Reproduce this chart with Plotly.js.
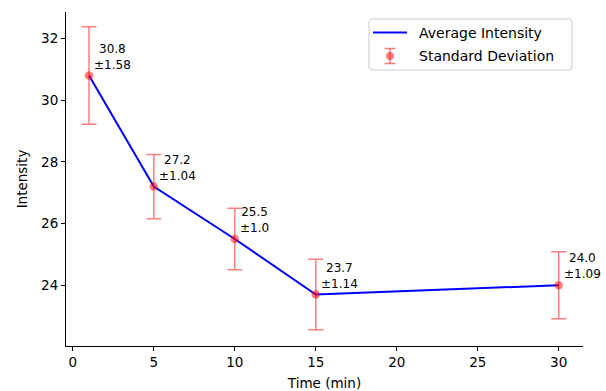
<!DOCTYPE html>
<html>
<head>
<meta charset="utf-8">
<script src="https://cdn.plot.ly/plotly-3.0.1.min.js"></script>
<style>
  html, body { margin: 0; padding: 0; background: #fff; }
  #chart { width: 606px; height: 391px; }
</style>
</head>
<body>
<div id="chart"></div>
<script>
// Measurement times and the mean intensity with its standard deviation
const timeMin = [1, 5, 10, 15, 30];
const avgIntensity = [30.8, 27.2, 25.5, 23.7, 24.0];
const stdIntensity = [1.58, 1.04, 1.0, 1.14, 1.09];
const stdLabels = ['1.58', '1.04', '1.0', '1.14', '1.09'];
const xTicks = [0, 5, 10, 15, 20, 25, 30];
const yTicks = [24, 26, 28, 30, 32];
const seriesNames = ['Average Intensity', 'Standard Deviation'];

const font = 'DejaVu Sans, sans-serif';
const errColor = 'rgba(255,0,0,0.5)';
const lineColor = '#0000ff';

const W = 606, H = 391;
const M = { l: 66, r: 23, t: 12, b: 45 };
const PW = W - M.l - M.r, PH = H - M.t - M.b;
// pixel position -> paper fraction (for the hand-drawn legend)
const px = v => (v - M.l) / PW;
const py = v => 1 - (v - M.t) / PH;

const lineTrace = {
  x: timeMin,
  y: avgIntensity,
  mode: 'lines',
  name: seriesNames[0],
  line: { color: lineColor, width: 2 },
  hoverinfo: 'skip'
};

const errTrace = {
  x: timeMin,
  y: avgIntensity,
  mode: 'markers',
  name: seriesNames[1],
  marker: { color: errColor, size: 8.5 },
  error_y: {
    type: 'data',
    array: stdIntensity,
    visible: true,
    color: errColor,
    thickness: 1.5,
    width: 7.5
  }
};

// Value labels beside each point
const annotations = timeMin.map((t, i) => ({
  x: t,
  y: avgIntensity[i],
  xref: 'x',
  yref: 'y',
  text: avgIntensity[i].toFixed(1) + '<br>±' + stdLabels[i],
  showarrow: false,
  xanchor: 'left',
  yanchor: 'bottom',
  align: 'center',
  xshift: 3,
  yshift: 2,
  font: { family: font, size: 12, color: '#000' }
}));

// Legend: framed box with a line swatch and an error-bar swatch
const box = { x0: 369, x1: 572, y0: 19, y1: 70, r: 3 };
const boxPath = [
  `M${px(box.x0 + box.r)},${py(box.y0)}`,
  `L${px(box.x1 - box.r)},${py(box.y0)}`,
  `Q${px(box.x1)},${py(box.y0)} ${px(box.x1)},${py(box.y0 + box.r)}`,
  `L${px(box.x1)},${py(box.y1 - box.r)}`,
  `Q${px(box.x1)},${py(box.y1)} ${px(box.x1 - box.r)},${py(box.y1)}`,
  `L${px(box.x0 + box.r)},${py(box.y1)}`,
  `Q${px(box.x0)},${py(box.y1)} ${px(box.x0)},${py(box.y1 - box.r)}`,
  `L${px(box.x0)},${py(box.y0 + box.r)}`,
  `Q${px(box.x0)},${py(box.y0)} ${px(box.x0 + box.r)},${py(box.y0)}`,
  'Z'
].join(' ');

const rowY = [32.5, 56];
const swX = 390;
const errLine = { color: errColor, width: 1.5 };
const paperLine = (x0, y0, x1, y1, line) => ({
  type: 'line', xref: 'paper', yref: 'paper', layer: 'above',
  x0: px(x0), y0: py(y0), x1: px(x1), y1: py(y1), line: line
});

const shapes = [
  { type: 'path', xref: 'paper', yref: 'paper', layer: 'above', path: boxPath,
    fillcolor: 'rgba(255,255,255,0.8)', line: { color: '#cccccc', width: 1 } },
  paperLine(373, rowY[0], 407, rowY[0], { color: lineColor, width: 2 }),
  paperLine(swX, rowY[1] - 7.5, swX, rowY[1] + 7.5, errLine),
  paperLine(swX - 5.5, rowY[1] - 7.5, swX + 5.5, rowY[1] - 7.5, errLine),
  paperLine(swX - 5.5, rowY[1] + 7.5, swX + 5.5, rowY[1] + 7.5, errLine),
  { type: 'circle', xref: 'paper', yref: 'paper', layer: 'above',
    x0: px(swX - 4), x1: px(swX + 4), y0: py(rowY[1] - 4), y1: py(rowY[1] + 4),
    fillcolor: errColor, line: { width: 0 } }
];

seriesNames.forEach((name, i) => {
  annotations.push({
    xref: 'paper', yref: 'paper',
    x: px(417), y: py(rowY[i]),
    xanchor: 'left', yanchor: 'middle',
    text: name, showarrow: false,
    font: { family: font, size: 14, color: '#000' }
  });
});

const layout = {
  width: W,
  height: H,
  margin: M,
  paper_bgcolor: '#fff',
  plot_bgcolor: '#fff',
  font: { family: font, size: 13.5, color: '#000' },
  showlegend: false,
  xaxis: {
    range: [-0.42, 31.5],
    tickvals: xTicks,
    ticks: 'outside',
    ticklen: 4,
    tickwidth: 1,
    tickcolor: '#000',
    showline: true,
    linecolor: '#000',
    linewidth: 1,
    showgrid: false,
    zeroline: false,
    title: { text: 'Time (min)', font: { family: font, size: 13.5 }, standoff: 15 }
  },
  yaxis: {
    range: [22.03, 32.86],
    tickvals: yTicks,
    ticks: 'outside',
    ticklen: 4,
    tickwidth: 1,
    tickcolor: '#000',
    showline: true,
    linecolor: '#000',
    linewidth: 1,
    showgrid: false,
    zeroline: false,
    title: { text: 'Intensity', font: { family: font, size: 13.5 }, standoff: 10 }
  },
  shapes: shapes,
  annotations: annotations
};

Plotly.newPlot('chart', [lineTrace, errTrace], layout, { displayModeBar: false, staticPlot: true });
</script>
</body>
</html>
